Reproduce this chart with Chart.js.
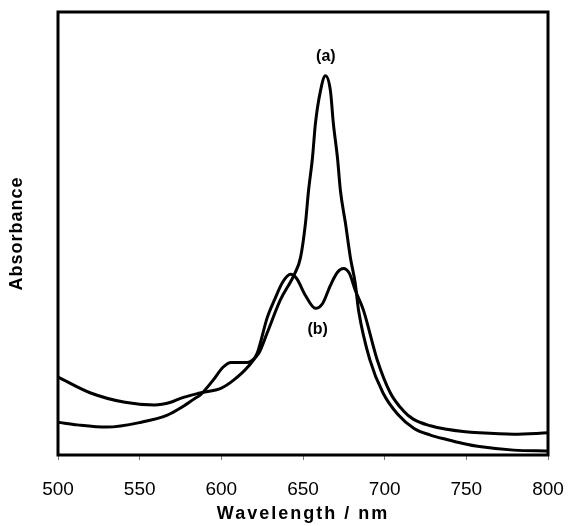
<!DOCTYPE html>
<html>
<head>
<meta charset="utf-8">
<script src="https://cdn.jsdelivr.net/npm/chart.js@4"></script>
<style>
html,body{margin:0;padding:0;background:#fff;}
#c{display:block;}
</style>
</head>
<body>
<canvas id="c" width="569" height="526"></canvas>
<script>
// Curve (a)
const wavelengthA = [500,512,530,551,567,575,584,587,595,601,606,616,619,623,628,636,645,648.5,651.5,653.4,655.8,657.6,660.7,663.7,666.8,668.6,671.1,672.9,676,679,682,684,691,699,708,718,728,738,748,758,779,800];
const absorbanceA = [0.074,0.068,0.063,0.074,0.090,0.106,0.128,0.135,0.169,0.198,0.209,0.209,0.214,0.230,0.275,0.349,0.410,0.446,0.523,0.597,0.671,0.748,0.822,0.856,0.822,0.748,0.671,0.597,0.523,0.446,0.387,0.327,0.214,0.140,0.092,0.060,0.045,0.035,0.026,0.019,0.011,0.009];
// Curve (b)
const wavelengthB = [500,520,541,559,569,575,587,600,607.5,616,622,628,633,637.5,642.4,646,651.5,657.6,662,666.8,671,674.7,678.4,682,687,695.5,703.5,711.4,717.5,728,738,748,758,779,800];
const absorbanceB = [0.176,0.140,0.119,0.113,0.119,0.128,0.140,0.151,0.169,0.198,0.230,0.309,0.354,0.390,0.408,0.399,0.360,0.331,0.342,0.383,0.412,0.421,0.410,0.372,0.327,0.214,0.140,0.100,0.081,0.066,0.058,0.053,0.050,0.047,0.050];
const seriesLabels = ['(a)','(b)'];
const xTicks = [500,550,600,650,700,750,800];

const toPts = (xs, ys) => xs.map((x,i)=>({x:x, y:ys[i]}));

function spacedTitle(scale, spacing){
  const orig = scale.drawTitle;
  if (scale._spacedWrapped) return;
  scale._spacedWrapped = true;
  scale.drawTitle = function(){
    const ctx = this.ctx;
    ctx.save();
    ctx.letterSpacing = spacing;
    orig.apply(this, arguments);
    ctx.restore();
  };
}

const framePlugin = {
  id:'frame',
  afterDraw(chart){
    const {ctx, chartArea:a, scales} = chart;
    ctx.save();
    ctx.strokeStyle = '#000';
    ctx.lineWidth = 3;
    ctx.strokeRect(a.left, a.top, a.right-a.left, a.bottom-a.top);
    ctx.fillStyle = '#000';
    ctx.font = 'bold 16px "Liberation Sans", Arial, sans-serif';
    ctx.textAlign = 'center';
    ctx.textBaseline = 'middle';
    ctx.fillText(seriesLabels[0], scales.x.getPixelForValue(664), scales.y.getPixelForValue(0.90));
    ctx.fillText(seriesLabels[1], scales.x.getPixelForValue(659), scales.y.getPixelForValue(0.282));
    ctx.restore();
  }
};

new Chart(document.getElementById('c'), {
  type:'line',
  data:{
    datasets:[
      {label:seriesLabels[0], data:toPts(wavelengthA, absorbanceA), borderColor:'#000', borderWidth:3, pointRadius:0, cubicInterpolationMode:'monotone', fill:false},
      {label:seriesLabels[1], data:toPts(wavelengthB, absorbanceB), borderColor:'#000', borderWidth:3, pointRadius:0, cubicInterpolationMode:'monotone', fill:false}
    ]
  },
  options:{
    responsive:false,
    animation:false,
    layout:{padding:{top:12, right:21, left:0, bottom:0}},
    plugins:{legend:{display:false}, tooltip:{enabled:false}},
    scales:{
      x:{
        type:'linear', min:500, max:800,
        afterBuildTicks: s => { s.ticks = xTicks.map(v=>({value:v})); },
        afterFit: s => { s.height = 71; s.paddingLeft = 0; s.paddingRight = 0; spacedTitle(s, '2px'); },
        grid:{display:true, drawOnChartArea:false, drawTicks:true, tickLength:5, color:'#777', lineWidth:1},
        border:{display:false},
        ticks:{color:'#000', font:{family:'"Liberation Sans", Arial, sans-serif', size:19}, padding:18, maxRotation:0},
        title:{display:true, text:'Wavelength / nm', color:'#000', font:{family:'"Liberation Sans", Arial, sans-serif', size:18, weight:'bold'}, padding:{top:0,bottom:1}}
      },
      y:{
        min:0, max:1,
        afterFit: s => { s.width = 58; spacedTitle(s, '1px'); },
        grid:{display:false},
        border:{display:false},
        ticks:{display:false},
        title:{display:true, text:'Absorbance', color:'#000', font:{family:'"Liberation Sans", Arial, sans-serif', size:18, weight:'bold'}, padding:{top:6,bottom:0}}
      }
    }
  },
  plugins:[framePlugin]
});
</script>
</body>
</html>
